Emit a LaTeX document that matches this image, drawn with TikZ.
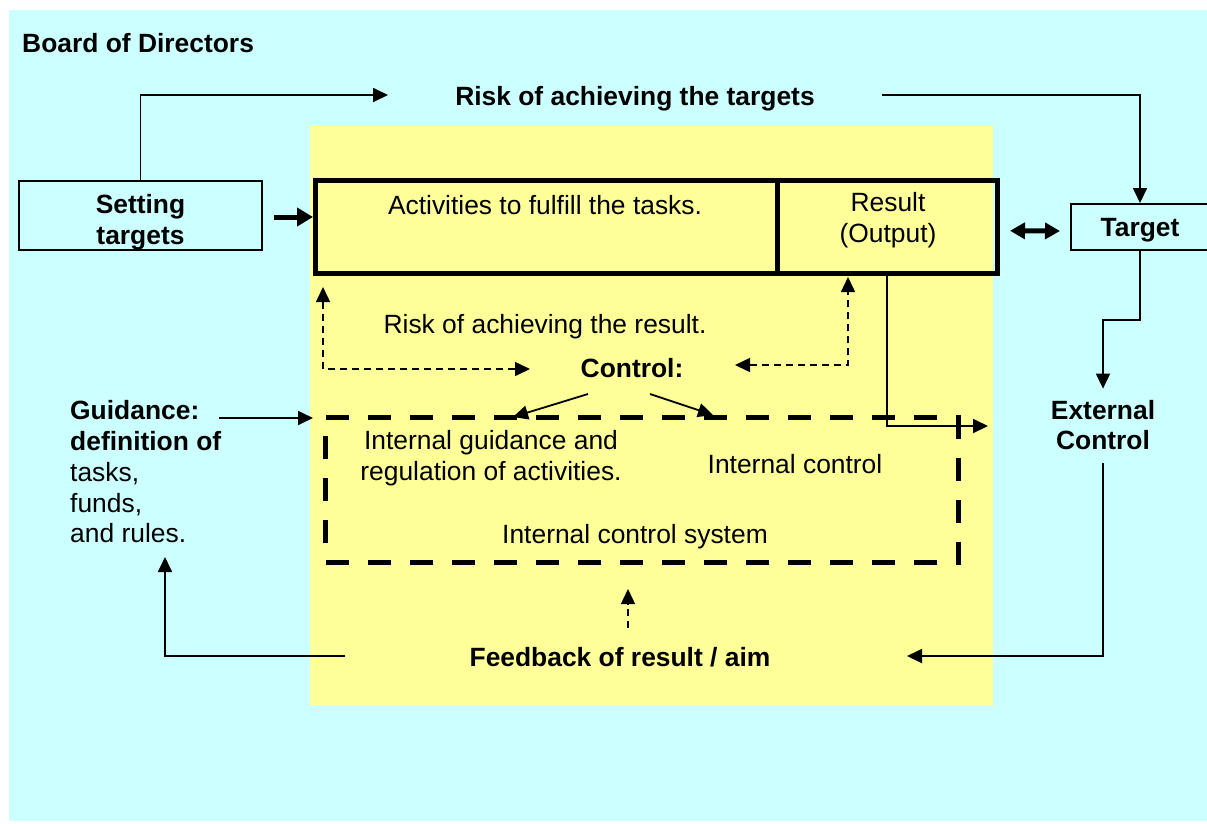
\documentclass[tikz,border=0pt]{standalone}
\usepackage{fontspec}
\setmainfont{Liberation Sans}
\usetikzlibrary{arrows.meta}
\definecolor{boardcyan}{HTML}{CCFFFF}
\definecolor{unityellow}{HTML}{FFFF99}
\tikzset{
  lbl/.style={inner sep=0pt, font=\fontsize{26.4}{31}\selectfont},
  blbl/.style={inner sep=0pt, font=\fontsize{26.4}{31}\selectfont\bfseries},
  box/.style={draw, line width=2pt, inner sep=0pt},
  heavybox/.style={draw, line width=5pt, inner sep=0pt},
  dashbox/.style={draw, line width=5pt, dash pattern=on 23pt off 19pt, inner sep=0pt},
  conn/.style={line width=1.8pt, ->},
  dconn/.style={line width=1.5pt, dash pattern=on 7pt off 5pt},
  fatconn/.style={line width=5pt}
}

\begin{document}
\begin{tikzpicture}[x=1pt, y=-1pt, >={Triangle[length=15pt,width=14pt]}]
\useasboundingbox (0,0) rectangle (1207,823);
\fill[boardcyan] (9,10) rectangle (1207,821);
\fill[unityellow] (310,126) rectangle (993,706);

\node[blbl, anchor=base west] (board) at (22,52) {Board of Directors};
\node[blbl, anchor=base] (riskTgt) at (635,105) {Risk of achieving the targets};

% boxes of the process
\node[box, minimum width=243pt, minimum height=69pt] (setting) at (140.5,215.5) {};
\node[blbl, align=center] (settingTxt) at (140.5,222) {Setting\\targets};
\node[heavybox, minimum width=461.5pt, minimum height=92.5pt] (act) at (546.25,226.75) {};
\node[heavybox, minimum width=220.5pt, minimum height=92.5pt] (res) at (887.25,226.75) {};
\node[lbl, anchor=base] (actTxt) at (545,214) {Activities to fulfill the tasks.};
\node[lbl, align=center] (resTxt) at (888,220) {Result\\(Output)};
\node[box, blbl, text height=25pt, text depth=5.5pt, minimum width=138pt, minimum height=46pt] (target) at (1140,227) {Target};
\node[blbl, align=center, font=\fontsize{26.4}{30}\selectfont\bfseries] (extc) at (1103,425.5) {External\\Control};

% internal control system
\node[dashbox, minimum width=632.5pt, minimum height=144.5pt] (ics) at (641.75,489.75) {};
\node[lbl, align=center] (igr) at (491,457.7) {Internal guidance and\\regulation of activities.};
\node[lbl, anchor=base] (icTxt) at (795,473) {Internal control};
\node[lbl, anchor=base] (icsTxt) at (635,543) {Internal control system};

\node[lbl, anchor=base] (riskRes) at (545,333) {Risk of achieving the result.};
\node[blbl, anchor=base] (ctl) at (632,377) {Control:};
\node[blbl, anchor=base] (fb) at (620,666) {Feedback of result / aim};
\node[lbl, align=left, anchor=west, font=\fontsize{26.4}{30.75}\selectfont] (guid) at (70,472)
  {\textbf{Guidance:}\\\textbf{definition of}\\tasks,\\funds,\\and rules.};

% connectors
\coordinate (setOut) at ([xshift=11pt,yshift=-1.5pt]setting.east);
\draw[fatconn, -{Triangle[length=16pt,width=18pt]}] (setOut) -- (setOut -| act.west);
\draw[fatconn, {Triangle[length=15pt,width=16pt]}-{Triangle[length=15pt,width=16pt]}]
  ([xshift=10pt,yshift=-4pt]res.east) -- ([xshift=-10pt,yshift=-4pt]target.west);

\coordinate (tgtArrIn) at (388,95);
\coordinate (tgtArrOut) at (882,95);
\draw[conn] (setting.north) |- (tgtArrIn);
\draw[conn] (tgtArrOut) -| (target.north);

\coordinate (fbIn) at (907,656);
\coordinate (fbOut) at (345,656);
\coordinate (guidIn) at (165,557);
\draw[conn] (target.south) -- ++(0,69) -| ([yshift=12pt]extc.north);
\draw[conn] ([yshift=-13pt]extc.south) |- (fbIn);
\draw[conn] (fbOut) -| (guidIn);

\coordinate (guidOut) at (219,418);
\draw[conn, shorten >=10pt] (guidOut) -- (guidOut -| ics.west);

\coordinate (resOut) at (988,426);
\draw[conn] (res.south) |- (resOut);

\coordinate (actIn) at (323,287);
\coordinate (ctlInL) at (530,369);
\coordinate (resIn) at (848,277);
\coordinate (ctlInR) at (735,365);
\draw[dconn, <->] (actIn) |- (ctlInL);
\draw[dconn, <->] (ctlInR) -| (resIn);

\coordinate (ctlOutL) at (588,394);
\coordinate (igIn) at (513,417);
\coordinate (ctlOutR) at (650,394);
\coordinate (icIn) at (713,415);
\draw[conn] (ctlOutL) -- (igIn);
\draw[conn] (ctlOutR) -- (icIn);

\coordinate (fbUp) at (628,628);
\coordinate (icsIn) at (628,589);
\draw[dconn, ->] (fbUp) -- (icsIn);
\end{tikzpicture}
\end{document}
